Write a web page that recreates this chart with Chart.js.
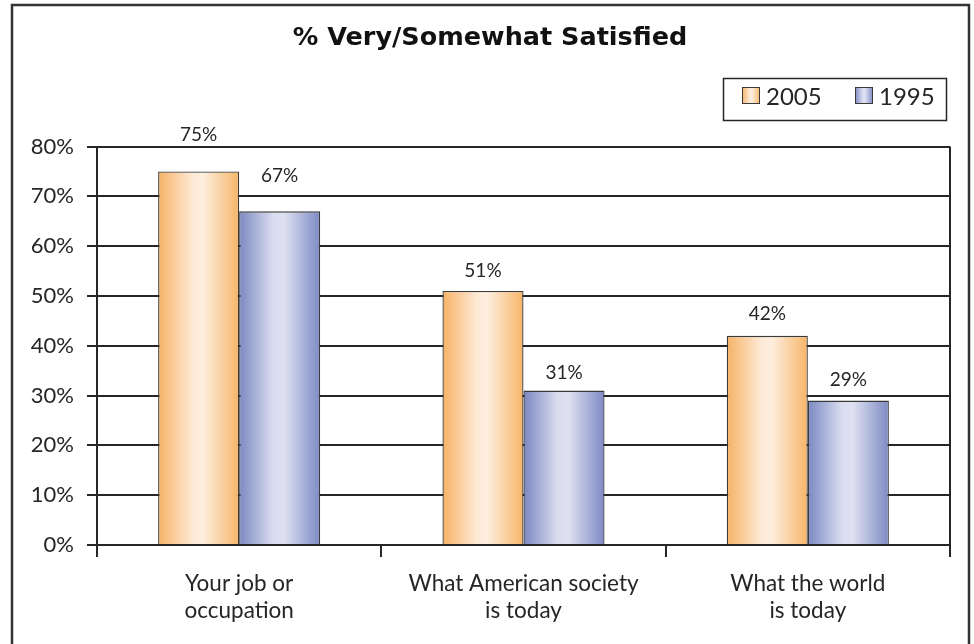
<!DOCTYPE html>
<html><head><meta charset="utf-8">
<script src="https://cdn.jsdelivr.net/npm/chart.js@4.4.1/dist/chart.umd.min.js"></script>
<style>html,body{margin:0;padding:0;background:#fff}canvas{display:block}</style>
</head><body>
<canvas id="c" width="974" height="644"></canvas>
<script>
// Survey categories (multi-line axis labels)
const categories = [
  ['Your job or', 'occupation'],
  ['What American society', 'is today'],
  ['What the world', 'is today']
];
const seriesNames = ['2005', '1995'];
const values2005 = [75, 51, 42];
const values1995 = [67, 31, 29];
const yMin = 0, yMax = 80, yStep = 10;

const FONT = 'Lato, "Open Sans", sans-serif';
const TITLE_FONT = '"DejaVu Sans", Lato, sans-serif';
const INK = '#262626';
const EDGE = '#3a3a3a';

// Horizontal "cylinder" shading for each series
const shades = [
  ['#f7b265', '#fde9d4', '#fdeedf', '#f7b568'],
  ['#7b88c2', '#d9dcef', '#dfe1f1', '#7d8ac4']
];
function hGradient(ctx, x0, x1, stops) {
  const g = ctx.createLinearGradient(x0, 0, x1, 0);
  g.addColorStop(0, stops[0]);
  g.addColorStop(0.42, stops[1]);
  g.addColorStop(0.55, stops[2]);
  g.addColorStop(1, stops[3]);
  return g;
}

// Give every bar its own gradient spanning its own width
const shadePlugin = {
  id: 'shade',
  beforeDatasetsDraw(chart) {
    const ctx = chart.ctx;
    chart.data.datasets.forEach((ds, di) => {
      chart.getDatasetMeta(di).data.forEach(bar => {
        const half = bar.width / 2;
        bar.options = Object.assign({}, bar.options, {
          backgroundColor: hGradient(ctx, bar.x - half, bar.x + half, shades[di])
        });
      });
    });
  }
};

// Value labels above bars; lift = gap between bar top and label centre
const valueLabelPlugin = {
  id: 'valueLabels',
  afterDatasetsDraw(chart, args, opts) {
    const ctx = chart.ctx;
    ctx.save();
    ctx.font = '19px ' + FONT;
    ctx.fillStyle = INK;
    ctx.textAlign = 'center';
    ctx.textBaseline = 'middle';
    chart.data.datasets.forEach((ds, di) => {
      chart.getDatasetMeta(di).data.forEach((bar, i) => {
        ctx.fillText(ds.data[i] + '%', bar.x, bar.y - opts.lift[di][i]);
      });
    });
    ctx.restore();
  }
};

// Outer frame and boxed legend
const framePlugin = {
  id: 'frame',
  afterDraw(chart) {
    const ctx = chart.ctx;
    ctx.save();
    ctx.strokeStyle = '#333';
    ctx.lineWidth = 2.5;
    ctx.strokeRect(12, 5, 957, 660);

    // legend box
    ctx.lineWidth = 1.5;
    ctx.strokeStyle = INK;
    ctx.strokeRect(723.5, 78.5, 223, 42);
    ctx.font = '24px ' + FONT;
    ctx.textBaseline = 'middle';
    ctx.textAlign = 'left';
    const items = [{x: 742}, {x: 855}];
    seriesNames.forEach((name, i) => {
      const x = items[i].x, y = 87;
      ctx.fillStyle = hGradient(ctx, x, x + 18, shades[i]);
      ctx.fillRect(x, y, 18, 17);
      ctx.lineWidth = 1;
      ctx.strokeStyle = EDGE;
      ctx.strokeRect(x + 0.5, y + 0.5, 17, 16);
      ctx.fillStyle = INK;
      ctx.fillText(name, x + 24, 97);
    });
    ctx.restore();
  }
};

new Chart(document.getElementById('c'), {
  type: 'bar',
  data: {
    labels: categories,
    datasets: [
      { label: seriesNames[0], data: values2005, backgroundColor: shades[0][0], borderColor: EDGE },
      { label: seriesNames[1], data: values1995, backgroundColor: shades[1][0], borderColor: EDGE }
    ]
  },
  plugins: [shadePlugin, valueLabelPlugin, framePlugin],
  options: {
    responsive: false,
    animation: false,
    devicePixelRatio: 1,
    layout: { padding: { left: 30, right: 24, top: 0, bottom: 0 } },
    datasets: {
      bar: {
        categoryPercentage: 0.57,
        barPercentage: 1,
        borderWidth: 1.3
      }
    },
    plugins: {
      colors: { enabled: false },
      legend: { display: false },
      tooltip: { enabled: false },
      title: {
        display: true,
        text: '% Very/Somewhat Satisfied',
        color: '#111',
        font: { family: TITLE_FONT, size: 25.5, weight: 'bold', lineHeight: 1.2 },
        padding: { top: 23, bottom: 93 }
      },
      valueLabels: { lift: [[37, 20, 22], [35, 18, 21]] }
    },
    scales: {
      x: {
        grid: {
          offset: true,
          drawOnChartArea: true,
          color: c => (c.type === 'scale' || c.index === undefined) ? INK : 'rgba(0,0,0,0)',
          tickColor: INK,
          tickLength: 12,
          lineWidth: 2
        },
        border: { display: true, color: INK, width: 2 },
        ticks: {
          color: INK,
          padding: 13,
          font: { family: FONT, size: 22.5, lineHeight: 1.22 },
          maxRotation: 0,
          autoSkip: false
        },
        afterFit(scale) { scale.height = 99; }
      },
      y: {
        min: yMin,
        max: yMax,
        grid: { color: INK, lineWidth: 2, tickLength: 10, tickColor: INK },
        border: { display: true, color: INK, width: 2 },
        ticks: {
          stepSize: yStep,
          color: INK,
          padding: 13,
          font: { family: FONT, size: 22 },
          callback: v => v + '%'
        },
        afterFit(scale) { scale.width = 67; }
      }
    }
  }
});
</script>
</body></html>
